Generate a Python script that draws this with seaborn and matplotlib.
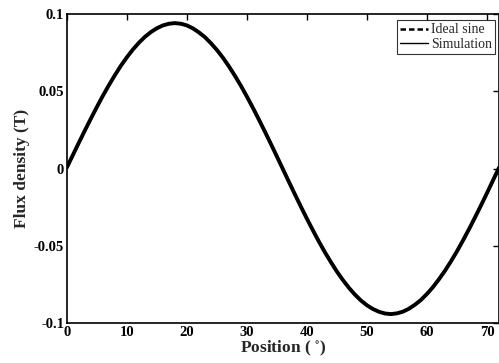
import matplotlib
matplotlib.use("Agg")
import matplotlib.pyplot as plt
import seaborn as sns
import pandas as pd
from matplotlib.lines import Line2D

position = list(range(0, 73))
ideal_sine = [0.0, 0.0082, 0.0163, 0.0243, 0.0321, 0.0397, 0.0470, 0.0539, 0.0604, 0.0665,
              0.0720, 0.0770, 0.0814, 0.0852, 0.0883, 0.0908, 0.0926, 0.0936, 0.0940,
              0.0936, 0.0926, 0.0908, 0.0883, 0.0852, 0.0814, 0.0770, 0.0720, 0.0665,
              0.0604, 0.0539, 0.0470, 0.0397, 0.0321, 0.0243, 0.0163, 0.0082, 0.0,
              -0.0082, -0.0163, -0.0243, -0.0321, -0.0397, -0.0470, -0.0539, -0.0604, -0.0665,
              -0.0720, -0.0770, -0.0814, -0.0852, -0.0883, -0.0908, -0.0926, -0.0936, -0.0940,
              -0.0936, -0.0926, -0.0908, -0.0883, -0.0852, -0.0814, -0.0770, -0.0720, -0.0665,
              -0.0604, -0.0539, -0.0470, -0.0397, -0.0321, -0.0243, -0.0163, -0.0082, 0.0]
simulation = [0.0008, 0.0088, 0.0168, 0.0247, 0.0324, 0.0399, 0.0472, 0.0540, 0.0605, 0.0666,
              0.0721, 0.0771, 0.0815, 0.0853, 0.0884, 0.0909, 0.0927, 0.0938, 0.0942,
              0.0938, 0.0927, 0.0908, 0.0882, 0.0851, 0.0812, 0.0768, 0.0718, 0.0662,
              0.0601, 0.0536, 0.0466, 0.0393, 0.0317, 0.0239, 0.0159, 0.0078, -0.0004,
              -0.0086, -0.0167, -0.0247, -0.0325, -0.0400, -0.0473, -0.0542, -0.0606, -0.0667,
              -0.0722, -0.0772, -0.0816, -0.0854, -0.0885, -0.0909, -0.0927, -0.0938, -0.0942,
              -0.0937, -0.0926, -0.0907, -0.0881, -0.0850, -0.0811, -0.0767, -0.0716, -0.0661,
              -0.0600, -0.0535, -0.0465, -0.0392, -0.0316, -0.0238, -0.0158, -0.0076, 0.0006]

xticks = [0, 10, 20, 30, 40, 50, 60, 70]
yticks = [-0.1, -0.05, 0, 0.05, 0.1]
yticklabels = ["-0.1", "-0.05", "0", "0.05", "0.1"]
series_names = ["Ideal sine", "Simulation"]

sns.set_theme(style="white")
plt.rcParams['font.family'] = ['Liberation Serif', 'DejaVu Serif']
plt.rcParams['mathtext.fontset'] = 'stix'

df = pd.DataFrame({
    "Position": position * 2,
    "Flux": ideal_sine + simulation,
    "Series": [series_names[0]] * len(position) + [series_names[1]] * len(position),
})

fig = plt.figure(figsize=(4.99, 3.63), dpi=100)
ax = fig.add_axes([0.134, 0.110, 0.866, 0.851])

sns.lineplot(data=df[df.Series == series_names[1]], x="Position", y="Flux", ax=ax,
             color="black", lw=2.8, legend=False)
sns.lineplot(data=df[df.Series == series_names[0]], x="Position", y="Flux", ax=ax,
             color="black", lw=1.6, linestyle=(0, (3, 1.5)), legend=False)

ax.set_xlim(0, 72)
ax.set_ylim(-0.1, 0.1)
ax.set_xticks(xticks)
ax.set_xticklabels([str(t) for t in xticks], fontweight="bold", fontsize=10.5)
ax.set_yticks(yticks)
ax.set_yticklabels(yticklabels, fontweight="bold", fontsize=10.5)
ax.tick_params(direction="in", length=4, width=1, top=True, right=True, pad=2,
               colors="black")
for s in ax.spines.values():
    s.set_color("black")
    s.set_linewidth(1.2)

ax.set_xlabel("Position ( $^{\\circ}$)", fontweight="bold", fontsize=12.5, labelpad=0)
ax.set_ylabel("Flux density (T)", fontweight="bold", fontsize=12.5, labelpad=3)

handles = [Line2D([], [], color="black", lw=1.8, linestyle=(0, (2.2, 1.2))),
           Line2D([], [], color="black", lw=1.0)]
leg = ax.legend(handles, series_names, loc="upper right",
                bbox_to_anchor=(0.998, 0.99), fontsize=10, frameon=True, fancybox=False,
                handlelength=2.0, handletextpad=0.2, borderpad=0.25, labelspacing=0.1,
                borderaxespad=0.2)
leg.get_frame().set_edgecolor("black")
leg.get_frame().set_linewidth(0.8)

fig.savefig("out.png", dpi=100)
